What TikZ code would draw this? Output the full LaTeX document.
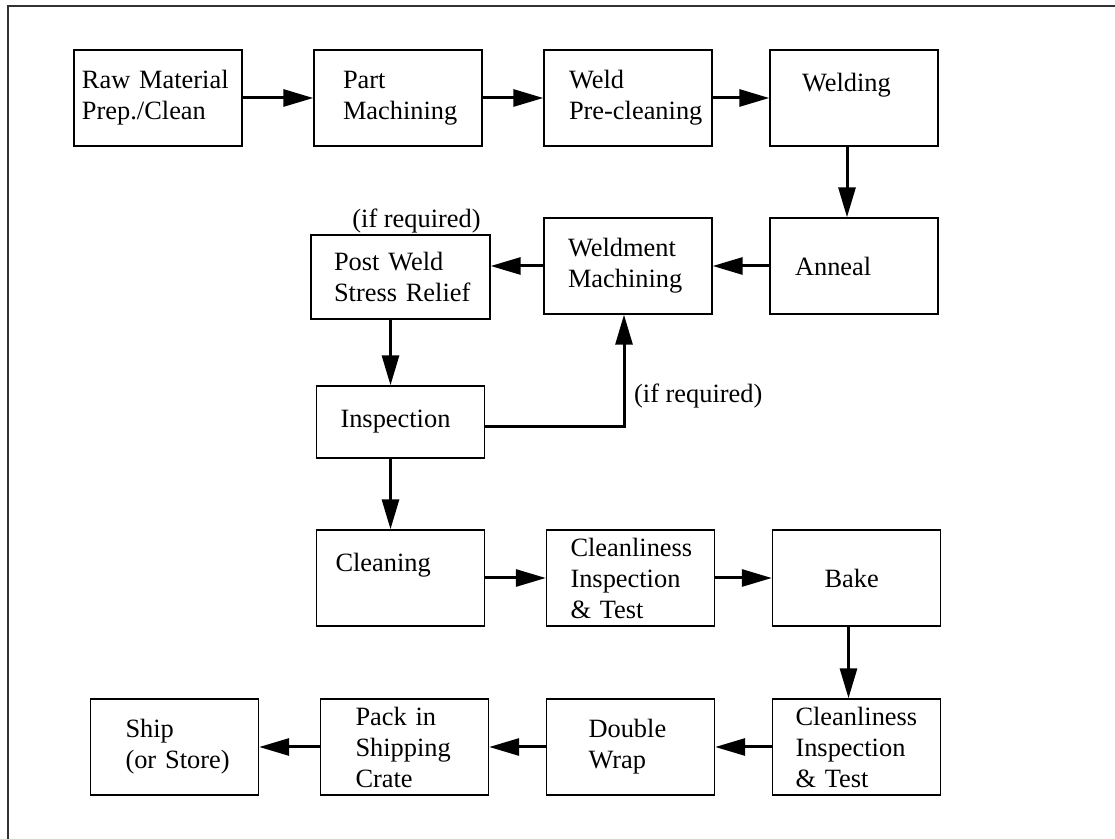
\documentclass[tikz,border=0pt]{standalone}
\usepackage{fontspec}
\setmainfont{Liberation Serif}
\usetikzlibrary{positioning, calc}
\usetikzlibrary{shapes,arrows.meta}
\tikzstyle{block} = [rectangle, draw, line width=0.7pt, align=left,
    minimum width=84pt, minimum height=48pt, inner ysep=0pt]
\tikzstyle{indent} = [inner xsep=0pt, text width=84pt,
    execute at begin node={\leftskip=#1\relax}]
\tikzstyle{line} = [draw, line width=1.5pt, -{Triangle[length=15pt,width=8.5pt]}]

\begin{document}
\begin{tikzpicture}[x=0.5pt, y=-0.5pt, node distance = 113pt, auto,
    font=\fontsize{13.2pt}{15.5pt}\selectfont]
   \useasboundingbox (0,0) rectangle (1115,839);
   % Frame (top and left only)
    \draw [line width=1pt, black!80] (8,839) -- (8,6) -- (1115,6);
   % Place nodes
    \node [block, indent=4pt] (raw) at (158,98) {Raw Material\\Prep./Clean};
    \node [block, indent=14.5pt, right of=raw, node distance = 120pt] (part) {Part\\Machining};
    \node [block, indent=12.5pt, right of=part, node distance = 115pt] (preclean) {Weld\\Pre-cleaning};
    \node [block, indent=16pt, right of=preclean] (welding) {Welding\\\mbox{}};
    \node [block, indent=12.5pt, below of=welding, node distance = 84pt] (anneal) {Anneal};
    \node [block, indent=12pt, left of=anneal] (wdmach) {Weldment\\Machining};
    \node [block, indent=11.5pt, text width=89.5pt, minimum width=89.5pt,
      minimum height=42pt] (postweld) at (400.5,277) {Post Weld\\Stress Relief};
    \node [above=-3pt of postweld, xshift=8pt] (req1) {(if required)};
    \node [block, indent=12pt, minimum height=36pt, below of=postweld,
      node distance = 72.5pt] (insp) {Inspection};
    \node [block, indent=9.5pt, below of=insp, node distance = 78pt] (clean) {Cleaning\\\mbox{}};
    \node [block, indent=12pt, right of=clean, node distance = 115pt] (clninsp) {Cleanliness\\Inspection\\\& Test};
    \node [block, indent=26pt, right of=clninsp] (bake) {Bake};
    \node [block, indent=11.5pt, below of=bake, node distance = 84.5pt] (clninsp2) {Cleanliness\\Inspection\\\& Test};
    \node [block, indent=21pt, left of=clninsp2] (wrap) {Double\\Wrap};
    \node [block, indent=17.5pt, left of=wrap] (pack) {Pack in\\Shipping\\Crate};
    \node [block, indent=17.5pt, left of=pack, node distance = 115pt] (ship) {Ship\\(or Store)};
   % Draw edges
    \path [line] (raw) -- (part);
    \path [line] (part) -- (preclean);
    \path [line] (preclean) -- (welding);
    \path [line] ([xshift=-3.5pt]welding.south) -- ([xshift=-3.5pt]anneal.north);
    \path [line] (anneal) -- (wdmach);
    \path [line] (wdmach.west) -- (postweld.east |- wdmach.west);
    \path [line] ([xshift=-5pt]postweld.south) -- ([xshift=-5pt]postweld.south |- insp.north);
    \path [line] ([yshift=-2.5pt]insp.east) -| ([xshift=-2pt]wdmach.south)
    node [pos=0.64, right=1pt] (req2) {(if required)};
    \path [line] ([xshift=-5pt]insp.south) -- ([xshift=-5pt]clean.north);
    \path [line] (clean) -- (clninsp);
    \path [line] (clninsp) -- (bake);
    \path [line] ([xshift=-4pt]bake.south) -- ([xshift=-4pt]clninsp2.north);
    \path [line] (clninsp2) -- (wrap);
    \path [line] (wrap) -- (pack);
    \path [line] (pack) -- (ship);
  \end{tikzpicture}
\end{document}
